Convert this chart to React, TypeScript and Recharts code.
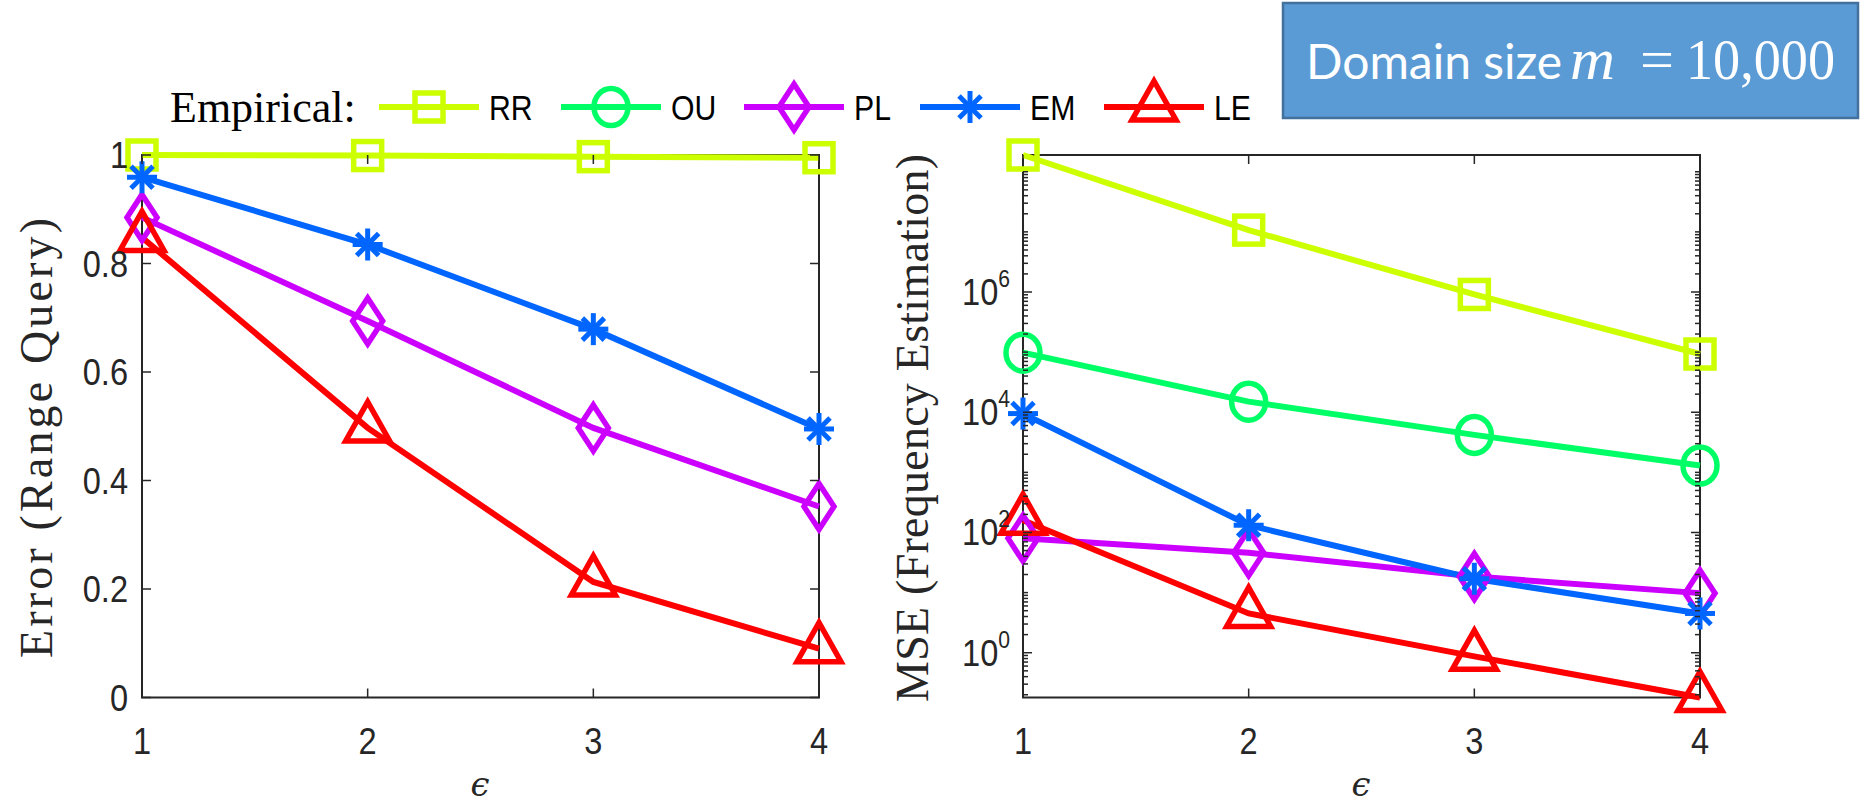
import React from "react";
import { LineChart, Line, XAxis, YAxis, ReferenceArea } from "recharts";

// privacy budget on the x axis of both panels
const epsValues = [1, 2, 3, 4];

// left panel: Error (Range Query)
const rangeRR = [1.0, 0.999, 0.997, 0.995];
const rangePL = [0.885, 0.694, 0.497, 0.352];
const rangeEM = [0.959, 0.835, 0.679, 0.495];
const rangeLE = [0.848, 0.497, 0.213, 0.09];

// right panel: MSE (Frequency Estimation), log scale
const mseRR = [1.9e8, 1.07e7, 9.1e5, 9.3e4];
const mseOU = [9.8e4, 1.5e4, 4200, 1300];
const msePL = [80, 46, 18.5, 9.8];
const mseEM = [9500, 132, 17, 4.5];
const mseLE = [160, 4.5, 0.87, 0.18];

const rangeTicks = [0, 0.2, 0.4, 0.6, 0.8, 1];
const rangeTickLabels = ["0", "0.2", "0.4", "0.6", "0.8", "1"];
const mseMajorTicks = [1, 100, 10000, 1000000];
const mseTickExponents = ["0", "2", "4", "6"];

const legendNames = ["RR", "OU", "PL", "EM", "LE"];

const STYLE: Record<string, { color: string; shape: string }> = {
  RR: { color: "#ccff00", shape: "square" },
  OU: { color: "#00ff66", shape: "circle" },
  PL: { color: "#cc00ff", shape: "diamond" },
  EM: { color: "#0066ff", shape: "star" },
  LE: { color: "#ff0000", shape: "triangle" },
};

const AXIS = "#262626";
const SANS = "'Liberation Sans', Arial, Helvetica, sans-serif";
const SERIF = "'Liberation Serif', 'Times New Roman', serif";

// layout
const TOP = 155;
const PLOT_H = 542.5;
const PLOT_W = 677;
const TICK_FONT = 37;
const SQUEEZE = 0.88;

const rangeData = epsValues.map((e, i) => ({
  eps: e,
  RR: rangeRR[i],
  PL: rangePL[i],
  EM: rangeEM[i],
  LE: rangeLE[i],
}));

const mseData = epsValues.map((e, i) => ({
  eps: e,
  RR: mseRR[i],
  OU: mseOU[i],
  PL: msePL[i],
  EM: mseEM[i],
  LE: mseLE[i],
}));

const mseAll = [...mseRR, ...mseOU, ...msePL, ...mseEM, ...mseLE];
const mseMin = Math.min(...mseAll);
const mseMax = Math.max(...mseAll);

// major + minor log ticks inside the tight domain
const mseTicks: number[] = [];
for (let k = Math.floor(Math.log10(mseMin)); k <= Math.ceil(Math.log10(mseMax)); k++) {
  for (let m = 1; m <= 9; m++) {
    const v = m * Math.pow(10, k);
    if (v >= mseMin && v <= mseMax) mseTicks.push(v);
  }
}

function Marker({ shape, cx, cy, color }: { shape: string; cx: number; cy: number; color: string }) {
  const sw = 5.5;
  const common = { fill: "none", stroke: color, strokeWidth: sw };
  switch (shape) {
    case "square":
      return <rect x={cx - 14} y={cy - 14} width={28} height={28} {...common} />;
    case "circle":
      return <ellipse cx={cx} cy={cy} rx={17} ry={18.5} {...common} />;
    case "diamond":
      return <path d={`M${cx},${cy - 23} L${cx + 15},${cy} L${cx},${cy + 23} L${cx - 15},${cy} Z`} {...common} />;
    case "star":
      return (
        <g stroke={color} strokeWidth={5}>
          <line x1={cx - 15} y1={cy} x2={cx + 15} y2={cy} />
          <line x1={cx} y1={cy - 16} x2={cx} y2={cy + 16} />
          <line x1={cx - 11} y1={cy - 11} x2={cx + 11} y2={cy + 11} />
          <line x1={cx - 11} y1={cy + 11} x2={cx + 11} y2={cy - 11} />
        </g>
      );
    case "triangle":
      return <path d={`M${cx},${cy - 26} L${cx + 22},${cy + 13} L${cx - 22},${cy + 13} Z`} {...common} />;
    default:
      return null;
  }
}

function TickText({ x, y, anchor, children }: { x: number; y: number; anchor: string; children: any }) {
  return (
    <g transform={`translate(${x},${y}) scale(${SQUEEZE},1)`}>
      <text x={0} y={0} textAnchor={anchor} fontFamily={SANS} fontSize={TICK_FONT} fill={AXIS}>
        {children}
      </text>
    </g>
  );
}

const XTick = ({ x, y, payload }: any) => (
  <g>
    <line x1={x} x2={x} y1={y} y2={y - 9} stroke={AXIS} strokeWidth={1.5} />
    <line x1={x} x2={x} y1={y - PLOT_H} y2={y - PLOT_H + 9} stroke={AXIS} strokeWidth={1.5} />
    <TickText x={x} y={y + 56} anchor="middle">
      {payload.value}
    </TickText>
  </g>
);

const RangeYTick = ({ x, y, payload }: any) => {
  const i = rangeTicks.indexOf(payload.value);
  return (
    <g>
      <line x1={x} x2={x + 9} y1={y} y2={y} stroke={AXIS} strokeWidth={1.5} />
      <line x1={x + PLOT_W} x2={x + PLOT_W - 9} y1={y} y2={y} stroke={AXIS} strokeWidth={1.5} />
      <TickText x={x - 14} y={y + 13} anchor="end">
        {rangeTickLabels[i]}
      </TickText>
    </g>
  );
};

const LogYTick = ({ x, y, payload }: any) => {
  const v = payload.value;
  const i = mseMajorTicks.findIndex((t) => Math.abs(t - v) / t < 1e-9);
  const len = i >= 0 ? 9 : 5;
  return (
    <g>
      <line x1={x} x2={x + len} y1={y} y2={y} stroke={AXIS} strokeWidth={1.5} />
      <line x1={x + PLOT_W} x2={x + PLOT_W - len} y1={y} y2={y} stroke={AXIS} strokeWidth={1.5} />
      {i >= 0 && (
        <TickText x={x - 13} y={y + 13} anchor="end">
          10
          <tspan dy={-18} fontSize={24}>
            {mseTickExponents[i]}
          </tspan>
        </TickText>
      )}
    </g>
  );
};

function seriesLines(names: string[]) {
  return names.map((name) => (
    <Line
      key={name}
      type="linear"
      dataKey={name}
      stroke={STYLE[name].color}
      strokeWidth={6}
      isAnimationActive={false}
      activeDot={false}
      dot={(p: any) => (
        <Marker key={`${name}-${p.index}`} shape={STYLE[name].shape} cx={p.cx} cy={p.cy} color={STYLE[name].color} />
      )}
    />
  ));
}

function Overlay() {
  const legendStarts = [379, 561, 744, 920, 1104];
  const legendY = 107;
  return (
    <svg width={1863} height={806} style={{ position: "absolute", left: 0, top: 0, pointerEvents: "none" }}>
      {/* domain size box */}
      <rect x={1283} y={3} width={575} height={115} fill="#5b9bd5" stroke="#41719c" strokeWidth={2.5} />
      <text x={1306} y={79} fontFamily="Lato, 'Open Sans', sans-serif" fontSize={48} fill="#fff">
        Domain size
      </text>
      <text
        x={1570}
        y={79}
        fontFamily={SERIF}
        fontStyle="italic"
        fontSize={60}
        fill="#fff"
        textLength={45}
        lengthAdjust="spacingAndGlyphs"
      >
        m
      </text>
      <text x={1640} y={79} fontFamily={SERIF} fontSize={58} fill="#fff" textLength={34} lengthAdjust="spacingAndGlyphs">
        =
      </text>
      <text x={1686} y={79} fontFamily={SERIF} fontSize={56} fill="#fff" textLength={149} lengthAdjust="spacingAndGlyphs">
        10,000
      </text>

      {/* legend */}
      <text x={170} y={122} fontFamily={SERIF} fontSize={44} fill="#000">
        Empirical:
      </text>
      {legendNames.map((name, i) => {
        const x0 = legendStarts[i];
        const s = STYLE[name];
        return (
          <g key={name}>
            <line x1={x0} x2={x0 + 100} y1={legendY} y2={legendY} stroke={s.color} strokeWidth={6} />
            <Marker shape={s.shape} cx={x0 + 50} cy={legendY} color={s.color} />
            <g transform={`translate(${x0 + 110},${legendY + 13}) scale(0.84,1)`}>
              <text x={0} y={0} fontFamily={SANS} fontSize={36} fill="#000">
                {name}
              </text>
            </g>
          </g>
        );
      })}

      {/* axis titles */}
      <text
        transform="translate(52, 438) rotate(-90)"
        textAnchor="middle"
        fontFamily={SERIF}
        fontSize={46}
        fill={AXIS}
        textLength={440}
        lengthAdjust="spacing"
      >
        Error (Range Query)
      </text>
      <text
        transform="translate(928, 428) rotate(-90)"
        textAnchor="middle"
        fontFamily={SERIF}
        fontSize={46}
        fill={AXIS}
        textLength={548}
        lengthAdjust="spacing"
      >
        MSE (Frequency Estimation)
      </text>
      <text x={480} y={796} textAnchor="middle" fontFamily="'DejaVu Serif', serif" fontStyle="italic" fontSize={34} fill={AXIS}>
        ϵ
      </text>
      <text x={1361} y={796} textAnchor="middle" fontFamily="'DejaVu Serif', serif" fontStyle="italic" fontSize={34} fill={AXIS}>
        ϵ
      </text>
    </svg>
  );
}

export default function App() {
  return (
    <div style={{ position: "absolute", left: 0, top: 0, width: 1863, height: 806, background: "#fff", overflow: "hidden" }}>
      <div style={{ position: "absolute", left: 0, top: 0 }}>
        <LineChart width={860} height={806} data={rangeData} margin={{ top: TOP, right: 41, left: 42, bottom: 0 }}>
          <ReferenceArea x1={1} x2={4} y1={0} y2={1} fill="none" stroke={AXIS} strokeWidth={2} />
          <XAxis
            dataKey="eps"
            type="number"
            domain={[1, 4]}
            ticks={epsValues}
            interval={0}
            height={108.5}
            axisLine={false}
            tickLine={false}
            tickSize={0}
            tickMargin={0}
            tick={(p: any) => <XTick {...p} />}
          />
          <YAxis
            type="number"
            domain={[0, 1]}
            ticks={rangeTicks}
            interval={0}
            width={100}
            axisLine={false}
            tickLine={false}
            tickSize={0}
            tickMargin={0}
            tick={(p: any) => <RangeYTick {...p} />}
          />
          {seriesLines(["RR", "PL", "EM", "LE"])}
        </LineChart>
      </div>
      <div style={{ position: "absolute", left: 860, top: 0 }}>
        <LineChart width={1003} height={806} data={mseData} margin={{ top: TOP, right: 163, left: 63, bottom: 0 }}>
          <ReferenceArea x1={1} x2={4} y1={mseMin} y2={mseMax} fill="none" stroke={AXIS} strokeWidth={2} />
          <XAxis
            dataKey="eps"
            type="number"
            domain={[1, 4]}
            ticks={epsValues}
            interval={0}
            height={108.5}
            axisLine={false}
            tickLine={false}
            tickSize={0}
            tickMargin={0}
            tick={(p: any) => <XTick {...p} />}
          />
          <YAxis
            type="number"
            scale="log"
            domain={[mseMin, mseMax]}
            ticks={mseTicks}
            interval={0}
            width={100}
            axisLine={false}
            tickLine={false}
            tickSize={0}
            tickMargin={0}
            tick={(p: any) => <LogYTick {...p} />}
          />
          {seriesLines(["RR", "OU", "PL", "EM", "LE"])}
        </LineChart>
      </div>
      <Overlay />
    </div>
  );
}
